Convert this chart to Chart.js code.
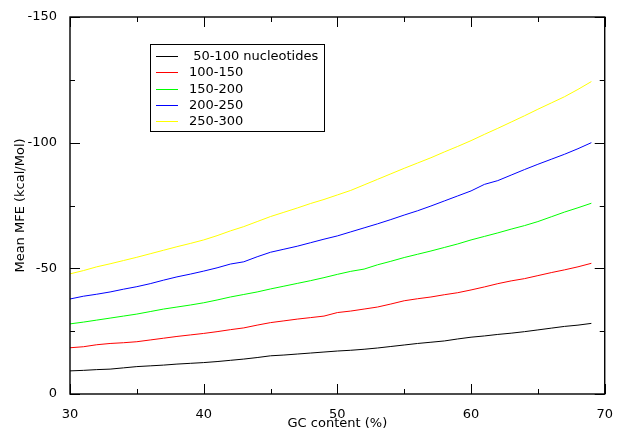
<!DOCTYPE html>
<html lang="en">
<head>
    <meta charset="UTF-8">
    <title>Mean MFE vs GC content</title>
    <script src="https://cdn.jsdelivr.net/npm/chart.js"></script>
    <style>
        body {
            margin: 0;
            padding: 0;
            background-color: #ffffff;
        }

        .wrap {
            width: 618px;
            height: 433px;
        }
    </style>
</head>
<body>
    <div class="wrap">
        <canvas id="mfeChart" width="618" height="433"></canvas>
    </div>

    <script>
        // GC content (%) sampled every 1 %
        const gcContent = [30, 31, 32, 33, 34, 35, 36, 37, 38, 39,
                           40, 41, 42, 43, 44, 45, 46, 47, 48, 49,
                           50, 51, 52, 53, 54, 55, 56, 57, 58, 59,
                           60, 61, 62, 63, 64, 65, 66, 67, 68, 69];

        const seriesLabels = [' 50-100 nucleotides', '100-150', '150-200', '200-250', '250-300'];
        const seriesColors = ['#000000', '#ff0000', '#00ff00', '#0000ff', '#ffff00'];

        const mfe50_100 = [-9.2, -9.4, -9.7, -9.9, -10.4, -10.9, -11.2, -11.5, -11.9, -12.2,
                           -12.5, -12.9, -13.4, -13.9, -14.5, -15.2, -15.5, -15.9, -16.3, -16.7,
                           -17.1, -17.4, -17.8, -18.3, -18.9, -19.5, -20.1, -20.6, -21.1, -21.9,
                           -22.6, -23.1, -23.7, -24.2, -24.8, -25.5, -26.2, -26.9, -27.4, -28.1];

        const mfe100_150 = [-18.4, -18.8, -19.6, -20.1, -20.4, -20.8, -21.5, -22.2, -22.9, -23.5,
                            -24.1, -24.8, -25.6, -26.3, -27.4, -28.4, -29.1, -29.8, -30.4, -31.0,
                            -32.4, -33.0, -33.8, -34.6, -35.8, -37.1, -37.9, -38.6, -39.5, -40.3,
                            -41.4, -42.6, -43.9, -45.0, -45.9, -47.1, -48.3, -49.4, -50.6, -52.0];

        const mfe150_200 = [-27.9, -28.6, -29.4, -30.2, -31.0, -31.8, -32.8, -33.8, -34.6, -35.4,
                            -36.3, -37.4, -38.6, -39.6, -40.6, -41.8, -42.9, -44.0, -45.1, -46.3,
                            -47.6, -48.8, -49.7, -51.4, -52.8, -54.3, -55.6, -56.9, -58.3, -59.7,
                            -61.3, -62.7, -64.1, -65.6, -67.0, -68.6, -70.5, -72.4, -74.1, -75.9];

        const mfe200_250 = [-37.8, -38.9, -39.7, -40.6, -41.7, -42.7, -43.9, -45.3, -46.6, -47.7,
                            -48.9, -50.2, -51.7, -52.6, -54.6, -56.4, -57.6, -58.8, -60.2, -61.6,
                            -62.9, -64.5, -66.1, -67.7, -69.4, -71.2, -72.9, -74.8, -76.8, -78.8,
                            -80.8, -83.4, -84.9, -87.1, -89.3, -91.4, -93.4, -95.4, -97.6, -100.0];

        const mfe250_300 = [-47.8, -49.1, -50.6, -51.8, -53.1, -54.4, -55.8, -57.2, -58.6, -59.9,
                            -61.3, -63.0, -64.9, -66.6, -68.6, -70.6, -72.3, -74.0, -75.8, -77.4,
                            -79.2, -81.0, -83.2, -85.4, -87.6, -89.8, -91.9, -94.0, -96.3, -98.5,
                            -100.8, -103.3, -105.7, -108.2, -110.7, -113.3, -115.8, -118.3, -121.2, -124.3];

        const xTicks = [30, 40, 50, 60, 70];
        const yTicks = [0, -50, -100, -150];

        const allSeries = [mfe50_100, mfe100_150, mfe150_200, mfe200_250, mfe250_300];
        const FONT = 'DejaVu Sans';

        // frame, inward ticks on all four sides, and the boxed legend
        const framePlugin = {
            id: 'frame',
            afterDraw(chart) {
                const ctx = chart.ctx;
                const a = chart.chartArea;
                const xs = chart.scales.x;
                const ys = chart.scales.y;
                ctx.save();
                ctx.strokeStyle = '#000000';
                ctx.lineWidth = 1.4;
                ctx.strokeRect(a.left, a.top, a.right - a.left, a.bottom - a.top);

                ctx.lineWidth = 1;
                ctx.beginPath();
                for (let v = 30; v <= 70; v += 5) {
                    const px = Math.round(xs.getPixelForValue(v)) + 0.5;
                    const len = v % 10 === 0 ? 10 : 5;
                    ctx.moveTo(px, a.bottom); ctx.lineTo(px, a.bottom - len);
                    ctx.moveTo(px, a.top); ctx.lineTo(px, a.top + len);
                }
                for (let v = 0; v >= -150; v -= 25) {
                    const py = Math.round(ys.getPixelForValue(v)) + 0.5;
                    const len = v % 50 === 0 ? 10 : 5;
                    ctx.moveTo(a.left, py); ctx.lineTo(a.left + len, py);
                    ctx.moveTo(a.right, py); ctx.lineTo(a.right - len, py);
                }
                ctx.stroke();

                // legend
                ctx.strokeRect(150.5, 44.5, 174, 87);
                ctx.font = '13px "' + FONT + '"';
                ctx.textBaseline = 'middle';
                ctx.fillStyle = '#000000';
                chart.data.datasets.forEach((ds, i) => {
                    const y = Math.round(55.7 + i * 16.4) + 0.5;
                    ctx.strokeStyle = ds.borderColor;
                    ctx.beginPath();
                    ctx.moveTo(156, y); ctx.lineTo(178, y);
                    ctx.stroke();
                    ctx.fillText(ds.label, 189, y);
                });
                ctx.restore();
            }
        };

        new Chart(document.getElementById('mfeChart'), {
            type: 'line',
            data: {
                datasets: allSeries.map((vals, i) => ({
                    label: seriesLabels[i],
                    data: gcContent.map((x, j) => ({ x: x, y: vals[j] })),
                    borderColor: seriesColors[i],
                    borderWidth: 1,
                    pointRadius: 0,
                    tension: 0,
                    fill: false
                }))
            },
            options: {
                responsive: false,
                animation: false,
                layout: {
                    padding: { left: 0, right: 11, top: 17, bottom: 0 }
                },
                plugins: {
                    legend: { display: false },
                    tooltip: { enabled: false }
                },
                scales: {
                    x: {
                        type: 'linear',
                        min: 30,
                        max: 70,
                        afterFit: s => { s.height = 39; },
                        afterBuildTicks: s => { s.ticks = xTicks.map(v => ({ value: v })); },
                        grid: { display: false },
                        border: { display: false },
                        ticks: {
                            color: '#000000',
                            padding: 5,
                            font: { family: FONT, size: 13 }
                        },
                        title: {
                            display: true,
                            text: 'GC content (%)',
                            color: '#000000',
                            padding: { top: 0, bottom: 2 },
                            font: { family: FONT, size: 13 }
                        }
                    },
                    y: {
                        type: 'linear',
                        min: -150,
                        max: 0,
                        reverse: true,
                        afterFit: s => { s.width = 70; },
                        afterBuildTicks: s => { s.ticks = yTicks.map(v => ({ value: v })); },
                        grid: { display: false },
                        border: { display: false },
                        ticks: {
                            color: '#000000',
                            padding: 5,
                            font: { family: FONT, size: 13 }
                        },
                        title: {
                            display: true,
                            text: 'Mean MFE (kcal/Mol)',
                            color: '#000000',
                            padding: { top: 13, bottom: 0 },
                            font: { family: FONT, size: 13 }
                        }
                    }
                }
            },
            plugins: [framePlugin]
        });
    </script>
</body>
</html>
